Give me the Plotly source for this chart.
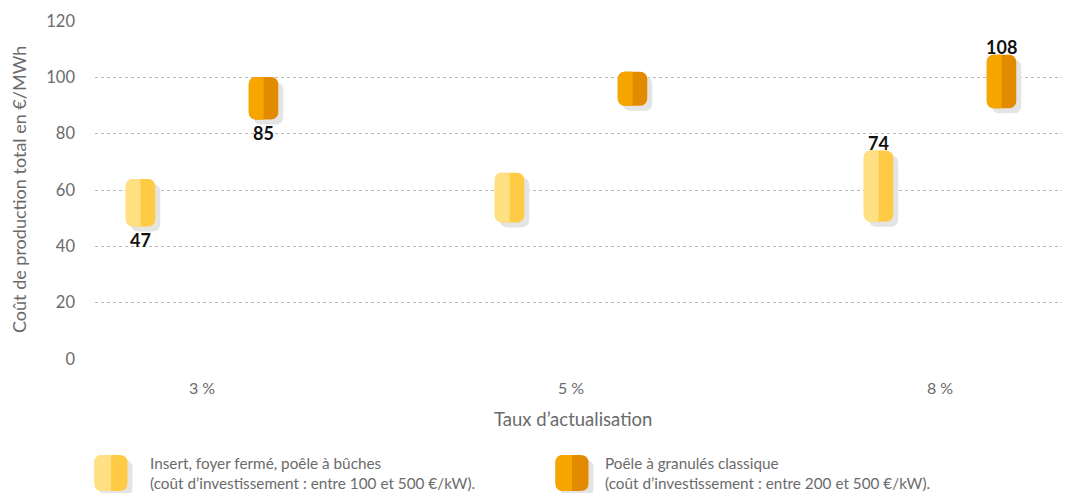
import plotly.graph_objects as go

# ---- data -------------------------------------------------------------
categories = ["3 %", "5 %", "8 %"]
insert_low = [47, 48.5, 48.7]
insert_high = [63.9, 66.1, 74]
pellet_low = [85, 89.9, 89]
pellet_high = [100.1, 102, 108]

series_names = ["Insert, foyer fermé, poêle à bûches", "Poêle à granulés classique"]
series_notes = [
    "(coût d’investissement : entre 100 et 500 €/kW).",
    "(coût d’investissement : entre 200 et 500 €/kW).",
]
# value labels: (series index, category index, which end of the range)
value_labels = [(0, 0, "low"), (1, 0, "low"), (0, 2, "high"), (1, 2, "high")]

# ---- geometry & style ---------------------------------------------------
W, H = 1076, 493
M_L, M_R, M_T, M_B = 95, 14, 21, 134
PLOT_W = W - M_L - M_R
PLOT_H = H - M_T - M_B
X_RANGE = [-0.29, 2.3306]
Y_RANGE = [0, 120]
PX_X = PLOT_W / (X_RANGE[1] - X_RANGE[0])
PX_Y = PLOT_H / (Y_RANGE[1] - Y_RANGE[0])

BAR_PX = 29.5
RADIUS = 7.4
OFFSET_PX = 61.5
SHADOW_DX, SHADOW_DY = 5, 5

LIGHT = ["#FFE083", "#F7A600"]
DARK = ["#FFCB45", "#E38B00"]
SHADOW = "#E4E4E4"
TEXT_GREY = "#6b6b6b"
FONT = "Lato"

lows = [insert_low, pellet_low]
highs = [insert_high, pellet_high]
signs = [-1, 1]

xc, lo, hi, light, dark = [], [], [], [], []
for s in range(2):
    for i in range(len(categories)):
        xc.append(i + signs[s] * OFFSET_PX / PX_X)
        lo.append(lows[s][i])
        hi.append(highs[s][i])
        light.append(LIGHT[s])
        dark.append(DARK[s])
span = [h - l for h, l in zip(hi, lo)]

bw = BAR_PX / PX_X
half_w = bw / 2
r_x = RADIUS / PX_X


def range_bar(x, base, height, width, color, radius):
    # bars with an explicit base get all four corners rounded
    return go.Bar(x=x, base=base, y=height, width=width,
                  marker=dict(color=color, line=dict(width=0), cornerradius=radius),
                  opacity=1, hoverinfo="skip", showlegend=False)


dy = SHADOW_DY / PX_Y
traces = [
    # drop shadow
    range_bar([x + SHADOW_DX / PX_X for x in xc], [l - dy for l in lo], span, bw, SHADOW, RADIUS),
    # darker full body
    range_bar(xc, lo, span, bw, dark, RADIUS),
    # lighter left half: rounded outer cap ...
    range_bar([x - half_w / 2 for x in xc], lo, span, half_w, light, RADIUS),
    # ... plus a square strip from the end of the cap's rounding to the seam
    range_bar([x - (half_w - r_x) / 2 for x in xc], lo, span, half_w - r_x, light, 0),
]
fig = go.Figure(traces)

# value labels, anchored on the range end they describe
annotations = []
for s, i, end in value_labels:
    k = s * len(categories) + i
    v = lows[s][i] if end == "low" else highs[s][i]
    annotations.append(dict(
        x=xc[k], y=v, xref="x", yref="y", text=f"{v:g}", showarrow=False,
        xanchor="center", yanchor="middle", yshift=-13 if end == "low" else 8,
        font=dict(family=FONT, size=18, color="#111111", weight="bold")))


# ---- legend swatches (pixel-sized shapes) -------------------------------
def rr_path(x0, x1, y0, y1, r, corners=(True, True, True, True)):
    """Rounded rectangle path; corners = (bottom-left, bottom-right, top-right, top-left)."""
    bl, br, tr, tl = [r if c else 0 for c in corners]
    return (f"M{x0 + bl},{y0} L{x1 - br},{y0} Q{x1},{y0} {x1},{y0 + br} "
            f"L{x1},{y1 - tr} Q{x1},{y1} {x1 - tr},{y1} "
            f"L{x0 + tl},{y1} Q{x0},{y1} {x0},{y1 - tl} "
            f"L{x0},{y0 + bl} Q{x0},{y0} {x0 + bl},{y0} Z")


SW_W, SW_H, SW_R = 33, 36, 8
legend_centers_px = [(111, 473), (572, 473)]
legend_text_px = [148, 603]
shapes = []
for s, (cx, cy) in enumerate(legend_centers_px):
    ax = (cx - M_L) / PLOT_W
    ay = (M_T + PLOT_H - cy) / PLOT_H
    base = dict(type="path", xref="paper", yref="paper", xsizemode="pixel", ysizemode="pixel",
                xanchor=ax, yanchor=ay, line=dict(width=0), layer="above")
    hw, hh = SW_W / 2, SW_H / 2
    shapes.append(dict(base, path=rr_path(-hw + 5, hw + 5, -hh - 5, hh - 5, SW_R), fillcolor=SHADOW))
    shapes.append(dict(base, path=rr_path(-hw, hw, -hh, hh, SW_R), fillcolor=DARK[s]))
    shapes.append(dict(base, path=rr_path(-hw, 0, -hh, hh, SW_R, (True, False, False, True)),
                       fillcolor=LIGHT[s]))
    annotations.append(dict(
        x=(legend_text_px[s] - M_L) / PLOT_W, y=ay, xref="paper", yref="paper",
        xanchor="left", yanchor="middle", align="left", showarrow=False,
        text=f"{series_names[s]}<br>{series_notes[s]}",
        font=dict(family=FONT, size=15.3, color=TEXT_GREY)))

# axis titles
annotations.append(dict(x=(19 - M_L) / PLOT_W, y=0.5, xref="paper", yref="paper", textangle=-90,
                        xanchor="center", yanchor="middle", showarrow=False,
                        text="Coût de production total en €/MWh",
                        font=dict(family=FONT, size=18, color=TEXT_GREY)))
annotations.append(dict(x=(573 - M_L) / PLOT_W, y=(M_T + PLOT_H - 419) / PLOT_H,
                        xref="paper", yref="paper", xanchor="center", yanchor="middle",
                        showarrow=False, text="Taux d’actualisation",
                        font=dict(family=FONT, size=18.5, color=TEXT_GREY)))

fig.update_layout(
    width=W, height=H,
    margin=dict(l=M_L, r=M_R, t=M_T, b=M_B, pad=0),
    paper_bgcolor="white", plot_bgcolor="white",
    barmode="overlay",
    showlegend=False,
    shapes=shapes,
    annotations=annotations,
    font=dict(family=FONT, color=TEXT_GREY),
    xaxis=dict(range=X_RANGE, tickvals=list(range(len(categories))), ticktext=categories,
               showgrid=False, zeroline=False, showline=False, ticks="",
               tickfont=dict(family=FONT, size=16, color=TEXT_GREY), ticklabelstandoff=18),
    yaxis=dict(range=Y_RANGE, dtick=20, showgrid=True, gridcolor="#b8b8b8", griddash="dot",
               gridwidth=1, zeroline=False, showline=False, ticks="",
               tickfont=dict(family=FONT, size=16.5, color=TEXT_GREY), ticklabelstandoff=19),
)

fig.write_html("out.html")
